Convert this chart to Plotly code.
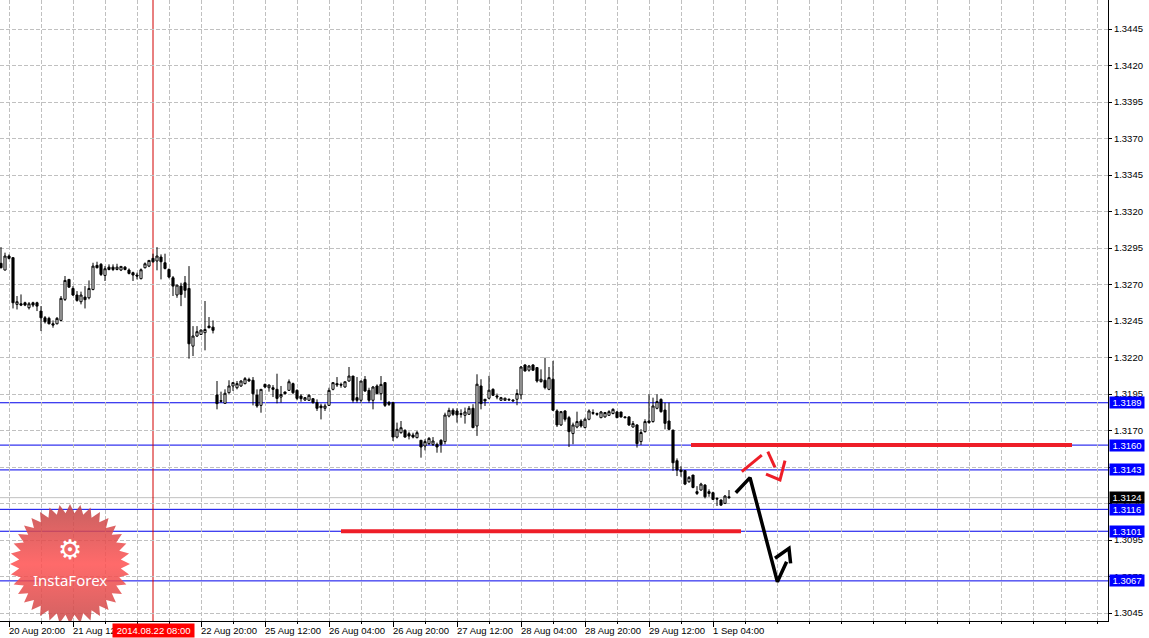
import numpy as np
import plotly.graph_objects as go

# ---------------- data (H1 EURUSD, bar index 0 = 20 Aug 18:00) ----------------
opens = [1.32845,1.32799,1.32895,1.32884,1.32564,1.32568,1.32575,1.32541,1.32575,1.32575,
         1.32518,1.32472,1.32468,1.32431,1.32431,1.32454,1.32598,1.32735,1.32673,1.32628,
         1.32582,1.32614,1.32609,1.32666,1.32831,1.32838,1.32762,1.32819,1.32819,1.32803,
         1.32799,1.32819,1.32799,1.32781,1.32765,1.32740,1.32815,1.32826,1.32879,1.32861,
         1.32888,1.32849,1.32803,1.32746,1.32628,1.32689,1.32712,1.32673,1.32278,1.32347,
         1.32358,1.32370,1.32415,1.32408,
         1.31943,1.31904,1.31886,1.31959,1.32005,1.31993,1.32005,1.32021,1.32050,1.32044,
         1.31943,1.31872,1.32016,1.31993,1.31993,1.31982,1.31929,1.31964,1.31975,1.32021,
         1.31975,1.31936,1.31909,1.31907,1.31918,1.31891,1.31868,1.31852,1.31872,1.31982,
         1.32021,1.32016,1.31998,1.32039,1.32073,1.31925,1.31907,1.32050,1.31975,1.31907,
         1.32005,1.31952,1.32028,1.31891,1.31891,1.31655,1.31685,1.31701,1.31678,1.31669,
         1.31651,1.31633,1.31594,1.31610,1.31605,1.31605,1.31633,1.31624,1.31799,1.31839,
         1.31834,1.31816,1.31804,1.31811,1.31852,1.31731,1.32005,1.31914,1.31921,1.31982,
         1.31937,1.31907,1.31907,1.31914,1.31909,1.31914,1.31944,1.32149,1.32113,1.32149,
         1.32131,1.32035,1.32044,1.31982,1.32051,1.31834,1.31738,1.31834,1.31788,1.31679,
         1.31724,1.31765,1.31720,1.31777,1.31823,1.31816,1.31788,1.31793,1.31804,1.31816,
         1.31827,1.31827,1.31793,1.31793,1.31724,1.31738,1.31624,1.31692,1.31765,1.31761,
         1.31852,1.31913,1.31840,1.31765,1.31703,1.31493,1.31429,1.31425,1.31349,1.31395,
         1.31281,1.31292,1.31326,1.31281,1.31274,1.31235,1.31224,1.31201,1.31246]
highs = [1.32956,1.32918,1.32906,1.32884,1.32621,1.32632,1.32582,1.32580,1.32582,1.32582,
         1.32552,1.32484,1.32479,1.32454,1.32477,1.32621,1.32758,1.32735,1.32689,1.32655,
         1.32651,1.32689,1.32728,1.32849,1.32856,1.32847,1.32826,1.32838,1.32838,1.32842,
         1.32826,1.32826,1.32810,1.32788,1.32781,1.32810,1.32851,1.32865,1.32911,1.32956,
         1.32906,1.32911,1.32810,1.32758,1.32696,1.32712,1.32758,1.32826,1.32415,1.32415,
         1.32392,1.32587,1.32477,1.32454,
         1.32039,1.31966,1.31982,1.32044,1.32028,1.32039,1.32044,1.32066,1.32062,1.32066,
         1.31982,1.31982,1.32021,1.32016,1.32011,1.32089,1.32005,1.31966,1.32050,1.32028,
         1.31982,1.31948,1.31929,1.31948,1.31920,1.31913,1.31884,1.31884,1.31993,1.32028,
         1.32066,1.32028,1.32034,1.32135,1.32073,1.32066,1.32039,1.32073,1.31993,1.32005,
         1.32016,1.32073,1.32028,1.31902,1.31897,1.31754,1.31765,1.31708,1.31692,1.31685,
         1.31697,1.31633,1.31640,1.31655,1.31655,1.31617,1.31640,1.31822,1.31856,1.31852,
         1.31852,1.31845,1.31857,1.31868,1.31880,1.32085,1.32051,1.31914,1.32074,1.31989,
         1.31953,1.31930,1.31925,1.31919,1.31914,1.31982,1.32142,1.32154,1.32149,1.32154,
         1.32131,1.32119,1.32199,1.32135,1.32177,1.31845,1.31834,1.31839,1.31800,1.31754,
         1.31829,1.31777,1.31788,1.31845,1.31845,1.31823,1.31834,1.31827,1.31839,1.31852,
         1.31834,1.31827,1.31798,1.31798,1.31765,1.31743,1.31709,1.31777,1.31948,1.31925,
         1.31948,1.31920,1.31890,1.31890,1.31703,1.31509,1.31456,1.31429,1.31388,1.31395,
         1.31319,1.31342,1.31333,1.31297,1.31281,1.31242,1.31228,1.31258,1.31292]
lows = [1.32810,1.32797,1.32872,1.32536,1.32529,1.32552,1.32552,1.32529,1.32545,1.32518,
        1.32381,1.32433,1.32427,1.32404,1.32427,1.32449,1.32587,1.32678,1.32621,1.32582,
        1.32564,1.32536,1.32598,1.32660,1.32810,1.32758,1.32724,1.32797,1.32792,1.32797,
        1.32792,1.32797,1.32769,1.32724,1.32735,1.32735,1.32810,1.32819,1.32849,1.32797,
        1.32735,1.32803,1.32742,1.32621,1.32609,1.32552,1.32609,1.32192,1.32210,1.32340,
        1.32354,1.32249,1.32400,1.32365,
        1.31845,1.31891,1.31884,1.31952,1.31971,1.31982,1.31998,1.32016,1.32034,1.31872,
        1.31856,1.31822,1.31989,1.31966,1.31929,1.31886,1.31891,1.31948,1.31971,1.31948,
        1.31907,1.31897,1.31902,1.31902,1.31884,1.31834,1.31776,1.31834,1.31868,1.31975,
        1.31998,1.31993,1.31993,1.32034,1.31891,1.31891,1.31891,1.31966,1.31891,1.31845,
        1.31948,1.31907,1.31861,1.31868,1.31628,1.31646,1.31678,1.31651,1.31639,1.31646,
        1.31646,1.31514,1.31564,1.31601,1.31594,1.31548,1.31548,1.31605,1.31790,1.31800,
        1.31754,1.31788,1.31747,1.31807,1.31715,1.31663,1.31845,1.31868,1.31914,1.31937,
        1.31914,1.31903,1.31903,1.31903,1.31898,1.31873,1.31914,1.32103,1.32103,1.32108,
        1.32028,1.32028,1.31982,1.31976,1.31834,1.31724,1.31731,1.31761,1.31587,1.31606,
        1.31715,1.31720,1.31715,1.31770,1.31807,1.31800,1.31784,1.31788,1.31800,1.31811,
        1.31784,1.31788,1.31784,1.31731,1.31720,1.31583,1.31601,1.31686,1.31747,1.31754,
        1.31845,1.31822,1.31708,1.31703,1.31424,1.31388,1.31383,1.31326,1.31342,1.31304,
        1.31258,1.31288,1.31235,1.31246,1.31224,1.31183,1.31183,1.31196,1.31233]
closes = [1.32815,1.32895,1.32879,1.32575,1.32582,1.32559,1.32559,1.32568,1.32559,1.32552,
          1.32472,1.32445,1.32431,1.32422,1.32468,1.32605,1.32728,1.32682,1.32628,1.32591,
          1.32628,1.32596,1.32673,1.32826,1.32815,1.32769,1.32808,1.32803,1.32803,1.32819,
          1.32824,1.32803,1.32776,1.32765,1.32758,1.32801,1.32842,1.32865,1.32856,1.32895,
          1.32856,1.32810,1.32751,1.32689,1.32696,1.32632,1.32660,1.32294,1.32347,1.32377,
          1.32388,1.32392,1.32404,1.32386,
          1.31884,1.31901,1.31955,1.32005,1.32028,1.32021,1.32039,1.32055,1.32039,1.31952,
          1.31868,1.31982,1.31998,1.32011,1.31982,1.31920,1.31947,1.31952,1.32034,1.31959,
          1.31920,1.31918,1.31925,1.31941,1.31891,1.31852,1.31856,1.31868,1.31975,1.32028,
          1.32012,1.32011,1.32034,1.32073,1.31907,1.31907,1.32039,1.31970,1.31907,1.31998,
          1.31952,1.32016,1.31872,1.31879,1.31655,1.31708,1.31719,1.31655,1.31662,1.31655,
          1.31685,1.31587,1.31624,1.31646,1.31628,1.31587,1.31605,1.31806,1.31838,1.31811,
          1.31807,1.31811,1.31827,1.31852,1.31720,1.32017,1.31884,1.31903,1.31976,1.31941,
          1.31930,1.31925,1.31921,1.31910,1.31903,1.31953,1.32135,1.32108,1.32142,1.32113,
          1.32039,1.32051,1.31994,1.32062,1.31839,1.31738,1.31829,1.31777,1.31692,1.31738,
          1.31761,1.31731,1.31777,1.31834,1.31818,1.31811,1.31827,1.31823,1.31829,1.31845,
          1.31788,1.31793,1.31788,1.31738,1.31747,1.31610,1.31686,1.31761,1.31754,1.31868,
          1.31898,1.31829,1.31749,1.31708,1.31479,1.31429,1.31418,1.31333,1.31379,1.31310,
          1.31269,1.31333,1.31246,1.31269,1.31228,1.31231,1.31189,1.31251,1.31240]
bars = list(range(len(opens)))

tick_bars = [2, 18, 34, 50, 66, 82, 98, 114, 130, 146, 162, 178]
tick_labels = ["20 Aug 20:00", "21 Aug 12:00", "22 Aug 04:00", "22 Aug 20:00",
               "25 Aug 12:00", "26 Aug 04:00", "26 Aug 20:00", "27 Aug 12:00",
               "28 Aug 04:00", "28 Aug 20:00", "29 Aug 12:00", "1 Sep 04:00"]

blue_levels = [1.3189, 1.3160, 1.3143, 1.3116, 1.3101, 1.3067]
bid_price = 1.3124
separator_bar = 38
separator_label = "2014.08.22 08:00"

# thick red levels (bar start, bar end, price)
red_seg_x = [[172.5, 267.75], [85, 185]]
red_seg_y = [[1.3160, 1.3160], [1.3101, 1.3101]]

# hand-drawn forecast lines
black_path1_x = [183.7, 187.25, 194.1, 196.4]
black_path1_y = [1.31274, 1.31377, 1.30664, 1.30801]
black_path2_x = [193.5, 197.0, 197.4]
black_path2_y = [1.30825, 1.30893, 1.30790]
red_path1_x = [185.2, 190.2]
red_path1_y = [1.31418, 1.31532]
red_path2_x = [191.7, 193.5]
red_path2_y = [1.31555, 1.31448]
red_path3_x = [191.25, 194.75, 196.0]
red_path3_y = [1.31402, 1.31361, 1.31493]

# ---------------- geometry helpers (pixel -> data) for decorations ----------------
Y0_PRICE, Y0_PX, PX_PER_UNIT = 1.3095, 540.0, 14600.0
def px_to_bar(px):
    return (px - 1.0) / 4.0
def py_to_price(py):
    return Y0_PRICE + (Y0_PX - py) / PX_PER_UNIT

FONT = "Liberation Sans, Arial, sans-serif"
BLUE = "rgb(0,0,235)"
GRID = "#c0c0c0"

fig = go.Figure()

fig.add_trace(go.Candlestick(
    x=bars, open=opens, high=highs, low=lows, close=closes,
    increasing=dict(line=dict(color="black", width=1), fillcolor="white"),
    decreasing=dict(line=dict(color="black", width=1), fillcolor="black"),
    whiskerwidth=0, hoverinfo="skip", showlegend=False))

for xs, ys in zip(red_seg_x, red_seg_y):
    fig.add_trace(go.Scatter(x=xs, y=ys, mode="lines",
                             line=dict(color="rgb(238,30,40)", width=4),
                             hoverinfo="skip", showlegend=False))

for xs, ys in [(black_path1_x, black_path1_y), (black_path2_x, black_path2_y)]:
    fig.add_trace(go.Scatter(x=xs, y=ys, mode="lines",
                             line=dict(color="black", width=3.5),
                             hoverinfo="skip", showlegend=False))
for xs, ys in [(red_path1_x, red_path1_y), (red_path2_x, red_path2_y), (red_path3_x, red_path3_y)]:
    fig.add_trace(go.Scatter(x=xs, y=ys, mode="lines",
                             line=dict(color="rgb(238,30,40)", width=3),
                             hoverinfo="skip", showlegend=False))

# ---------------- InstaForex starburst logo ----------------
cx, cy, r_out, r_in, n_pts = 70.0, 564.0, 60.0, 51.0, 36
ang = np.linspace(0, 2 * np.pi, 2 * n_pts + 1) + np.pi / 2
rad = np.where(np.arange(2 * n_pts + 1) % 2 == 0, r_out, r_in)
sx = px_to_bar(cx + rad * np.cos(ang))
sy = py_to_price(cy - rad * np.sin(ang))
fig.add_trace(go.Scatter(
    x=sx, y=sy, mode="lines", fill="toself", line=dict(width=0, color="rgba(0,0,0,0)"),
    fillcolor="rgb(240,75,75)",
    fillgradient=dict(type="vertical",
                      colorscale=[[0, "rgb(200,70,70)"], [0.5, "rgb(255,80,80)"],
                                  [1, "rgb(190,68,68)"]]),
    opacity=0.85, hoverinfo="skip", showlegend=False))

shapes = []
for lvl in blue_levels:
    shapes.append(dict(type="line", xref="paper", x0=0, x1=1, yref="y", y0=lvl, y1=lvl,
                       line=dict(color=BLUE, width=1), layer="below"))
shapes.append(dict(type="line", xref="paper", x0=0, x1=1, yref="y", y0=bid_price, y1=bid_price,
                   line=dict(color="#c0c0c0", width=1), layer="below"))
shapes.append(dict(type="line", xref="x", x0=separator_bar, x1=separator_bar, yref="paper",
                   y0=0, y1=1, line=dict(color="rgb(210,0,0)", width=1), layer="below"))

annotations = []
for b, t in zip(tick_bars, tick_labels):
    annotations.append(dict(x=b, xref="x", y=0, yref="paper", text=t, showarrow=False,
                            xanchor="left", yanchor="top", xshift=-2, yshift=-2,
                            font=dict(family=FONT, size=9.5, color="black")))
annotations.append(dict(x=separator_bar, xref="x", y=0, yref="paper",
                        text=" " + separator_label + " ", showarrow=False,
                        xanchor="center", yanchor="top", yshift=-2, bgcolor="#ff0000",
                        borderpad=1, font=dict(family=FONT, size=9.5, color="white")))
for lvl in blue_levels:
    annotations.append(dict(x=1, xref="paper", y=lvl, yref="y", text=f"{lvl:.4f}",
                            showarrow=False, xanchor="left", yanchor="middle", xshift=1,
                            bgcolor="#0000ff", borderpad=1, width=32, height=9,
                            font=dict(family=FONT, size=9.5, color="white")))
annotations.append(dict(x=1, xref="paper", y=bid_price, yref="y", text=f"{bid_price:.4f}",
                        showarrow=False, xanchor="left", yanchor="middle", xshift=1,
                        bgcolor="black", borderpad=1, width=32, height=9,
                        font=dict(family=FONT, size=9.5, color="white")))
# logo texts
annotations.append(dict(x=px_to_bar(70), xref="x", y=py_to_price(549), yref="y", text="⚙",
                        showarrow=False, font=dict(family="DejaVu Sans", size=27, color="white")))
annotations.append(dict(x=px_to_bar(70), xref="x", y=py_to_price(580), yref="y", text="InstaForex",
                        showarrow=False, font=dict(family="Noto Sans", size=15, color="white")))

y_lo = py_to_price(621)
y_hi = py_to_price(0)

fig.update_layout(
    width=1149, height=638, autosize=False,
    margin=dict(l=0, r=41, t=0, b=17, pad=0),
    paper_bgcolor="white", plot_bgcolor="white",
    showlegend=False, boxgap=0.25, hovermode=False,
    shapes=shapes, annotations=annotations,
    xaxis=dict(range=[px_to_bar(0), px_to_bar(1108)], rangeslider=dict(visible=False),
               tickmode="array", tickvals=tick_bars, showticklabels=False,
               ticks="outside", ticklen=5, tickcolor="black", tickwidth=1,
               showgrid=True, gridcolor=GRID, griddash="4px,2px", gridwidth=1,
               minor=dict(tickmode="linear", tick0=2, dtick=8, ticks="outside", ticklen=2,
                          tickcolor="black", showgrid=True, gridcolor=GRID, griddash="4px,2px"),
               showline=True, linecolor="black", linewidth=1, zeroline=False,
               fixedrange=True, automargin=False),
    yaxis=dict(range=[y_lo, y_hi], side="right", tickmode="linear", tick0=1.3045, dtick=0.0025,
               tickformat=".4f", ticks="outside", ticklen=3, tickcolor="black",
               tickfont=dict(family=FONT, size=9.5, color="black"),
               showgrid=True, gridcolor=GRID, griddash="4px,2px", gridwidth=1,
               showline=True, linecolor="black", linewidth=1, zeroline=False,
               fixedrange=True, automargin=False),
)

fig.write_html("out.html", config={"displayModeBar": False},
               post_script="document.body.style.margin='0';document.body.style.padding='0';"
                           "document.documentElement.style.overflow='hidden';")
